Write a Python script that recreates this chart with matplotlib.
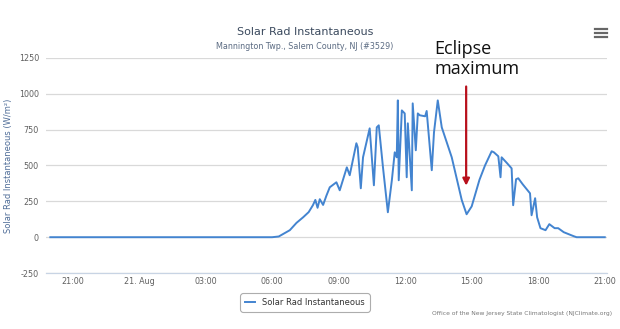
import matplotlib.pyplot as plt

# Hours relative to midnight of 21 Aug (negative = evening of 20 Aug)
horas = [-4.0, 6.0, 6.3, 6.8, 7.1, 7.4, 7.65, 7.84, 7.95, 8.05, 8.15, 8.3, 8.45,
         8.6, 8.9, 9.05, 9.37, 9.5, 9.8, 9.86, 10.0, 10.1, 10.4, 10.59, 10.72,
         10.81, 11.0, 11.22, 11.4, 11.53, 11.62, 11.67, 11.71, 11.85, 11.98,
         12.07, 12.12, 12.3, 12.34, 12.48, 12.57, 12.66, 12.9, 12.97, 13.2,
         13.3, 13.47, 13.65, 14.1, 14.55, 14.77, 15.0, 15.35, 15.6, 15.9, 16.0,
         16.2, 16.3, 16.35, 16.6, 16.8, 16.87, 17.0, 17.1, 17.3, 17.63, 17.7,
         17.86, 17.95, 18.1, 18.33, 18.5, 18.74, 18.9, 19.15, 19.6, 19.73, 21.0]
radiacao = [0, 0, 5, 49, 100, 139, 175, 223, 260, 205, 265, 225, 290,
            348, 383, 327, 487, 432, 655, 627, 341, 557, 759, 362, 766,
            780, 487, 174, 397, 592, 557, 954, 397, 884, 863,
            418, 794, 327, 933, 606, 863, 850, 843, 880, 467,
            731, 954, 766, 557, 260, 160, 215, 400, 500, 599, 592,
            564, 418, 557, 515, 480, 223, 404, 411, 369, 306, 153,
            272, 139, 63, 49, 91, 63, 63, 35, 7, 0, 0]

ticks_h = [-3, 0, 3, 6, 9, 12, 15, 18, 21]
ticks_lbl = ['21:00', '21. Aug', '03:00', '06:00', '09:00', '12:00', '15:00', '18:00', '21:00']
yticks = [-250, 0, 250, 500, 750, 1000, 1250]

fig = plt.figure(figsize=(6.2, 3.29), dpi=100)
ax = fig.add_axes([0.074, 0.170, 0.905, 0.654])

ax.plot(horas, radiacao, color='#4384d0', lw=1.4, zorder=3)

ax.set_xlim(-4.2, 21.1)
ax.set_ylim(-250, 1250)
ax.set_yticks(yticks)
ax.set_yticklabels([str(v) for v in yticks])
ax.set_xticks(ticks_h)
ax.set_xticklabels(ticks_lbl)
ax.tick_params(axis='both', length=0, labelsize=5.8, colors='#606060')
ax.tick_params(axis='x', pad=3)
ax.tick_params(axis='y', pad=5)
ax.grid(axis='y', color='#d9d9d9', lw=0.9)
ax.set_axisbelow(True)
for lado in ['top', 'right', 'left']:
    ax.spines[lado].set_visible(False)
ax.spines['bottom'].set_color('#c8d4e4')
ax.spines['bottom'].set_linewidth(0.9)

ax.set_ylabel('Solar Rad Instantaneous (W/m²)', fontsize=6, color='#4f6d98', labelpad=4)

fig.text(0.492, 0.902, 'Solar Rad Instantaneous', ha='center', va='center',
         fontsize=8, color='#3b4a5e')
fig.text(0.492, 0.858, 'Mannington Twp., Salem County, NJ (#3529)', ha='center',
         va='center', fontsize=5.8, color='#5b6b82')

# menu icon
for dy in [0, 4, 8]:
    fig.add_artist(plt.Line2D([595 / 620, 607 / 620],
                              [1 - (29 + dy) / 329, 1 - (29 + dy) / 329],
                              color='#666666', lw=1.6))

# legend box
leg = ax.legend(['Solar Rad Instantaneous'], loc='upper center',
                bbox_to_anchor=(0.462, -0.075), fontsize=6, frameon=True,
                handlelength=1.2, borderpad=0.55, labelcolor='#333333')
leg.get_frame().set_edgecolor('#999999')
leg.get_frame().set_linewidth(0.8)
leg.get_frame().set_boxstyle('round,pad=0.1,rounding_size=0.4')

fig.text(0.987, 0.048, 'Office of the New Jersey State Climatologist (NJClimate.org)',
         ha='right', va='center', fontsize=4.3, color='#777777')

# eclipse annotation
ax.annotate('', xy=(14.75, 340), xytext=(14.75, 1070),
            arrowprops=dict(arrowstyle='-|>', color='#b8101c', lw=1.6,
                            mutation_scale=10), annotation_clip=False)
fig.text(0.700, 0.820, 'Eclipse\nmaximum', ha='left', va='center',
         fontsize=13, color='#111111', family='Open Sans', linespacing=1.15)

fig.savefig('out.png', dpi=100)
